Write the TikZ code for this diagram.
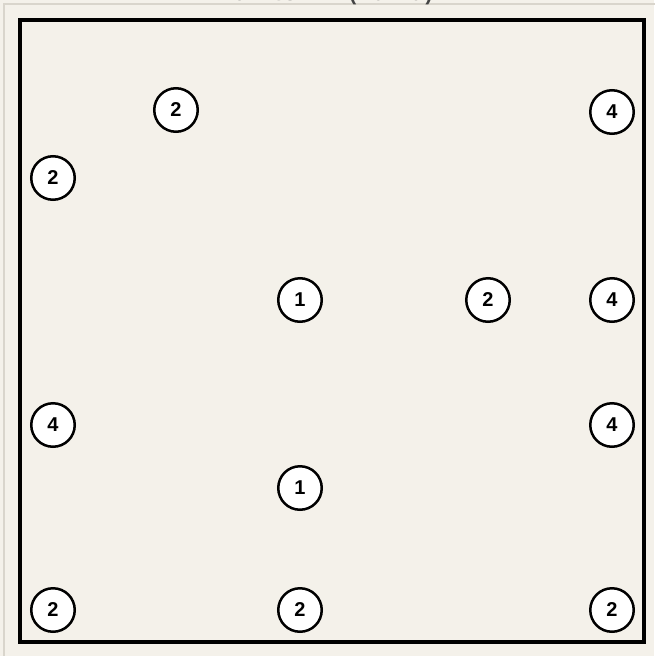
\documentclass[tikz,border=0pt]{standalone}
\usepackage{fontspec}
\setmainfont{Liberation Sans}
\setmonofont{Liberation Mono}
\usepackage{xcolor}
\usepackage{tikz}
\definecolor{paper}{HTML}{F4F1EA}
\definecolor{panelline}{HTML}{D9D5CC}
\definecolor{titlegray}{HTML}{444444}

\begin{document}
\begin{tikzpicture}[x=1pt, y=-1pt,
    spot/.style={draw, circle, line width=2.5pt, fill=white, minimum size=43.5pt, inner sep=0pt, font=\bfseries\fontsize{20}{20}\selectfont},
    board/.style={draw, line width=4pt},
]
    \useasboundingbox (0,0) rectangle (654,656);
    \fill[paper] (0,0) rectangle (654,656);

    % Panel edge and (cut off) title
    \draw[panelline, line width=1.5pt] (4,700) -- (4,4) -- (700,4);
    \node[anchor=base, font=\ttfamily\bfseries\fontsize{21}{21}\selectfont, text=titlegray] (title) at (328,0.5) {Points: 7 (10-10)};

    % Board
    \draw[board] (20,20) rectangle (644,642);

    % Spots
    \node[spot] (a) at (176,110) {2};
    \node[spot] (b) at (612,112) {4};
    \node[spot] (c) at (53,178) {2};
    \node[spot] (d) at (300,300) {1};
    \node[spot] (e) at (488,300) {2};
    \node[spot] (f) at (612,300) {4};
    \node[spot] (g) at (53,425) {4};
    \node[spot] (h) at (612,425) {4};
    \node[spot] (i) at (300,488) {1};
    \node[spot] (j) at (53,610) {2};
    \node[spot] (k) at (300,610) {2};
    \node[spot] (l) at (612,610) {2};
\end{tikzpicture}
\end{document}
